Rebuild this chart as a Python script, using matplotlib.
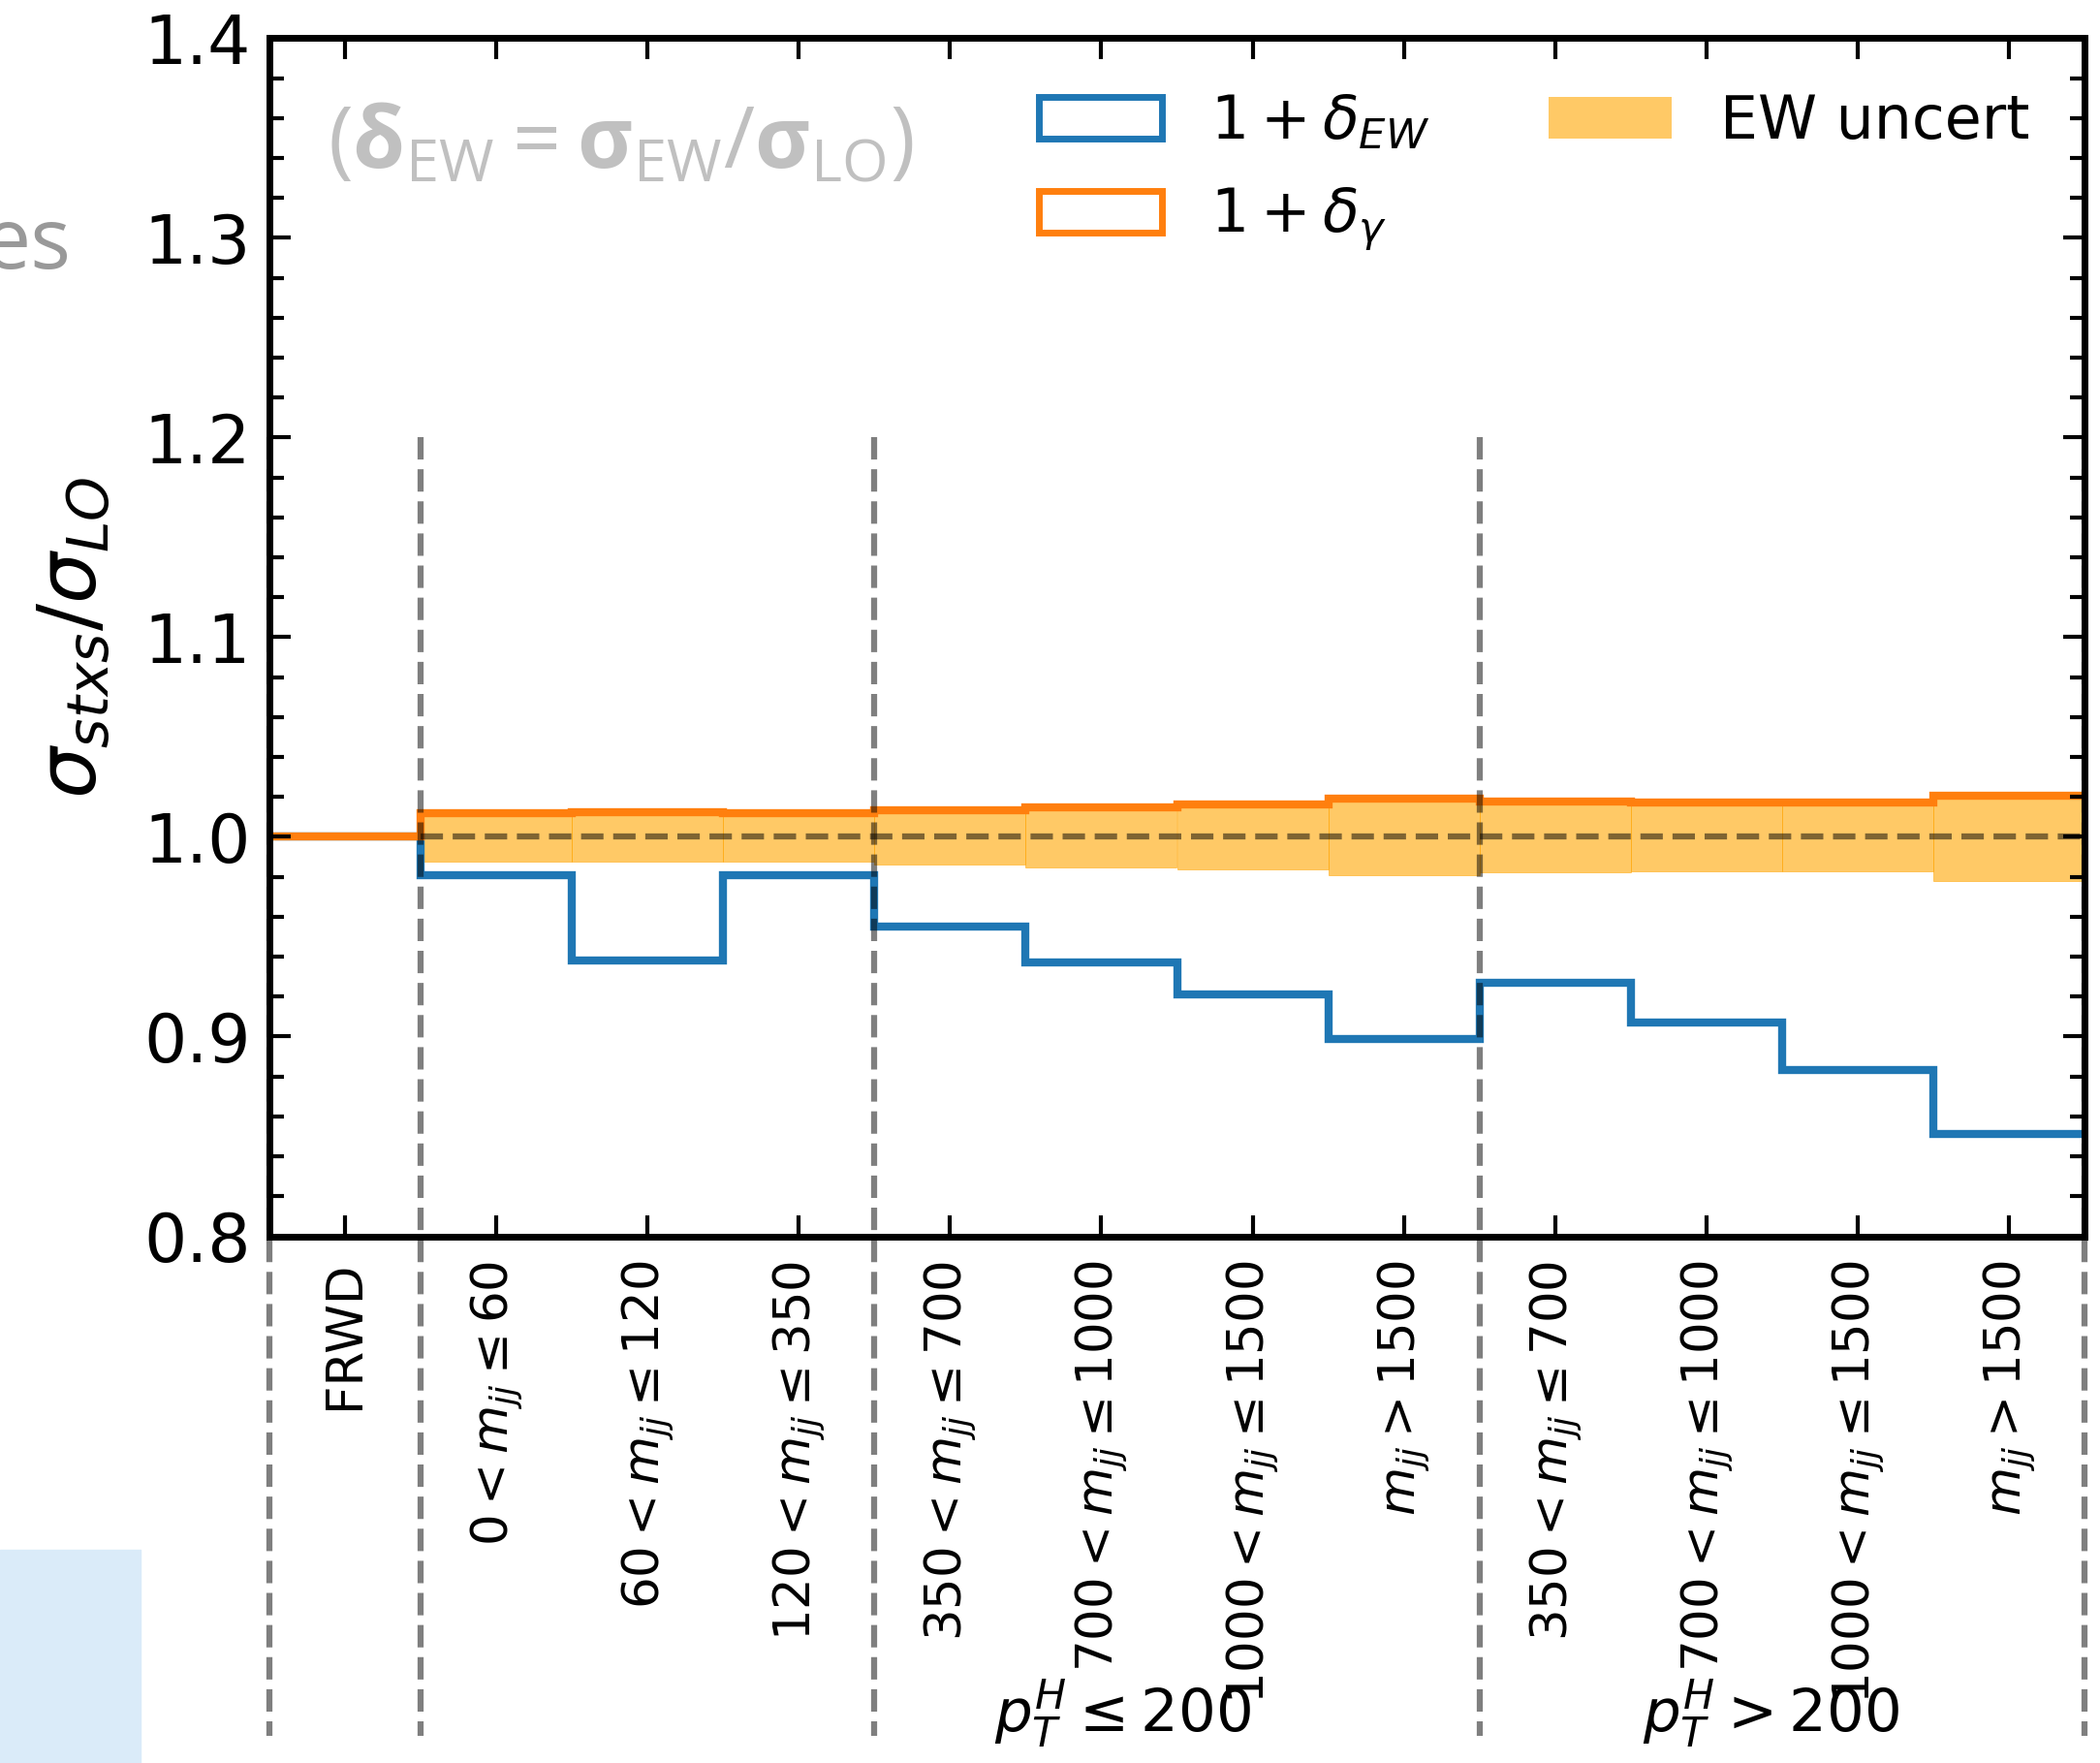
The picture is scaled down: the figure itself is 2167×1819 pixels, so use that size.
import numpy as np
import matplotlib
matplotlib.use("Agg")
import matplotlib.pyplot as plt
from matplotlib.patches import Patch
from matplotlib.ticker import MultipleLocator, FormatStrFormatter

# STXS bins (VBF)
bin_labels = ['FRWD',
              r'$0 < m_{jj} \leq 60$',
              r'$60 < m_{jj} \leq 120$',
              r'$120 < m_{jj} \leq 350$',
              r'$350 < m_{jj} \leq 700$',
              r'$700 < m_{jj} \leq 1000$',
              r'$1000 < m_{jj} \leq 1500$',
              r'$m_{jj} > 1500$',
              r'$350 < m_{jj} \leq 700$',
              r'$700 < m_{jj} \leq 1000$',
              r'$1000 < m_{jj} \leq 1500$',
              r'$m_{jj} > 1500$']
bin_edges = np.arange(13)
group_edges = [0, 1, 4, 8, 12]
group_labels = [r'$p_T^H \leq 200$', r'$p_T^H > 200$']

one_plus_delta_ew = [1.000, 0.981, 0.938, 0.981, 0.955, 0.937, 0.921, 0.899,
                     0.927, 0.907, 0.883, 0.851]
one_plus_delta_gamma = [1.000, 1.012, 1.0125, 1.012, 1.0135, 1.015, 1.016, 1.019,
                        1.0175, 1.017, 1.0173, 1.0208]
ew_uncert = [0.000, 0.0126, 0.0126, 0.0126, 0.0140, 0.0155, 0.0165, 0.0194,
             0.0177, 0.0174, 0.0174, 0.0221]

fig = plt.figure(figsize=(21.67, 18.19), dpi=100)
ax = fig.add_axes([278/2167, 1 - 1275.5/1819, (2151-278)/2167, (1275.5-39.3)/1819])

centers = bin_edges[:-1] + 0.5
unc = np.array(ew_uncert)
ax.bar(centers, 2*unc, bottom=1 - unc, width=1.0, color='orange', alpha=0.6,
       edgecolor='orange', linewidth=0.6)
ax.stairs(one_plus_delta_ew, bin_edges, baseline=None, color='C0', lw=6)
ax.stairs(one_plus_delta_gamma, bin_edges, baseline=None, color='C1', lw=6)

ax.hlines(1.0, 1, 12, colors='k', alpha=0.5, linestyles='--', lw=4.5)
for xe in group_edges:
    ax.plot([xe, xe], [1.2, 0.55], color='k', alpha=0.5, ls='--', lw=4.5,
            clip_on=False)

ax.set_xlim(0, 12)
ax.set_ylim(0.8, 1.4)
ax.set_xticks(centers)
ax.set_xticklabels(bin_labels, rotation=90, fontsize=37)
ax.yaxis.set_major_locator(MultipleLocator(0.1))
ax.yaxis.set_minor_locator(MultipleLocator(0.02))
ax.yaxis.set_major_formatter(FormatStrFormatter('%.1f'))
ax.tick_params(axis='y', which='major', labelsize=50, pad=14)
ax.tick_params(axis='x', which='major', pad=18)
ax.tick_params(which='both', direction='in', top=True, right=True, width=3)
ax.tick_params(which='major', length=16)
ax.tick_params(which='minor', length=11)
for sp in ax.spines.values():
    sp.set_linewidth(5)

ax.set_ylabel(r'$\sigma_{stxs}/\sigma_{LO}$', fontsize=60, labelpad=22)

for lab, xc in zip(group_labels, [5.64, 9.93]):
    ax.text(xc, 0.552, lab, ha='center', va='baseline', fontsize=44,
            transform=ax.transData, clip_on=False)

handles = [Patch(facecolor='none', edgecolor='C0', lw=5),
           Patch(facecolor='none', edgecolor='C1', lw=5),
           Patch(facecolor='orange', alpha=0.6, lw=0)]
labels = [r'$1+\delta_{EW}$', r'$1+\delta_{\gamma}$', 'EW uncert']
ax.legend(handles, labels, ncol=2, loc='upper right', frameon=False,
          fontsize=44.5, handlelength=2.05, handleheight=0.7, columnspacing=2.0,
          labelspacing=0.58, borderaxespad=0.52)

# slide overlays visible in the crop
plt.rcParams['mathtext.rm'] = 'Open Sans'
plt.rcParams['mathtext.bf'] = 'Open Sans:bold'
ax.text(0.032, 0.912,
        r'$(\mathbf{\delta}_{\mathrm{EW}} = \mathbf{\sigma}_{\mathrm{EW}}/\mathbf{\sigma}_{\mathrm{LO}})$',
        transform=ax.transAxes, fontsize=63, color='#c0c0c0', ha='left',
        va='center', math_fontfamily='custom')
fig.text(73/2167, 1 - 277/1819, 'es', fontsize=63, color='#999999',
         family='Open Sans', ha='right', va='baseline')
fig.patches.append(plt.Rectangle((0, 0), 145/2167, 220/1819,
                                 transform=fig.transFigure, color='#daebf9',
                                 zorder=-1))

fig.savefig('out.png', dpi=100)
